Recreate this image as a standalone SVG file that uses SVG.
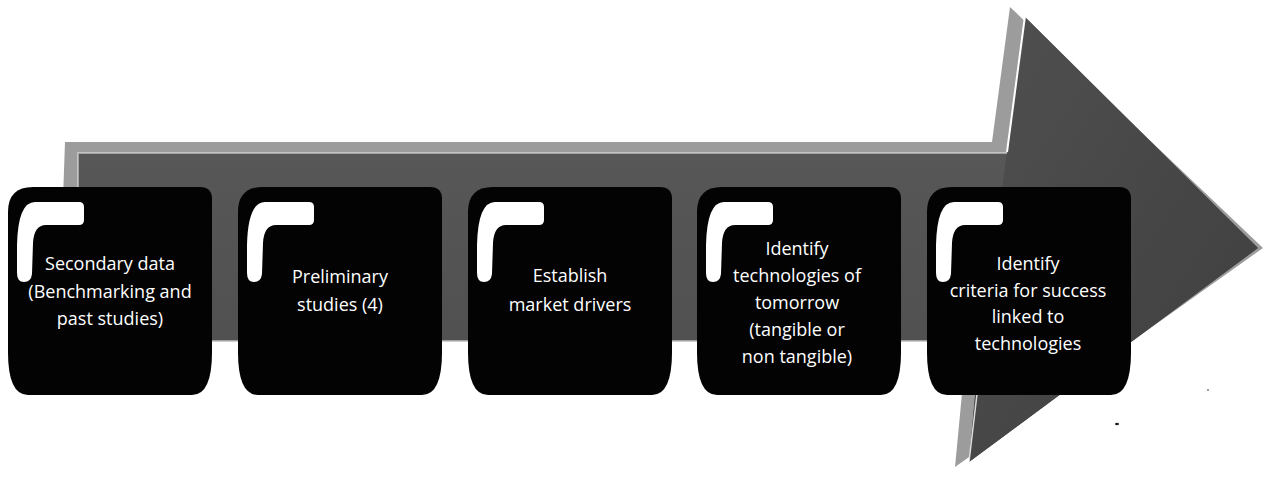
<svg xmlns="http://www.w3.org/2000/svg" width="1266" height="477" viewBox="0 0 1266 477">
<style>
.nodebg{fill:#030303}
.hook{fill:#ffffff}
.lbl{font-family:"Open Sans","Noto Sans","Liberation Sans",sans-serif;font-size:18px;fill:#ffffff;text-anchor:middle}
</style>
<defs>
<linearGradient id="bodyG" x1="0" y1="0" x2="0" y2="1">
<stop offset="0" stop-color="#5c5c5c"/>
<stop offset="1" stop-color="#4c4c4c"/>
</linearGradient>
<linearGradient id="headG" x1="0" y1="0" x2="1" y2="1">
<stop offset="0" stop-color="#505050"/>
<stop offset="1" stop-color="#3e3e3e"/>
</linearGradient>
<path id="nodeShape" d="M 25,0 L 192,0 Q 204,0 204,12 L 204,165 Q 204,208 184,208 L 20,208 Q 0,208 0,165 L 0,25 Q 0,0 25,0 Z"/>
<path id="hookShape" d="M 27,15 L 71,15 Q 76,15 76,20 L 76,33 Q 76,38 71,38 L 38,38 Q 26,38 25,56 L 24,87 Q 23,95 16,95 Q 9,95 9,86 L 9,58 Q 10,15 27,15 Z"/>
</defs>

<g id="arrow">
<path d="M 65,142 L 992,142 L 1010,7 L 1263,248 L 955,467 L 967,341 L 58,341 Z" fill="#9c9c9c"/>
<path d="M 78,153 L 1007,153 L 1025,17 L 1258,248 L 969,462 L 980,341 L 78,341 Z" fill="url(#bodyG)"/>
<path d="M 1007,153 L 1025,17 L 1258,248 L 969,462 L 980,341 Z" fill="url(#headG)"/>
<path d="M 78,341 L 78,153 L 1007,153" fill="none" stroke="#e8e8e8" stroke-width="1.5" opacity="0.7"/>
<path d="M 1007,152 L 1025,16" fill="none" stroke="#ffffff" stroke-width="2"/>
<path d="M 977,394 L 969,462" fill="none" stroke="#ffffff" stroke-width="1.5" opacity="0.8"/>
<path d="M 58,341 L 967,341" fill="none" stroke="#bdbdbd" stroke-width="1.5"/>
</g>

<g id="node1" transform="translate(8,187)">
<use href="#nodeShape" class="nodebg"/>
<use href="#hookShape" class="hook"/>
<text class="lbl" x="102" y="83">Secondary data</text>
<text class="lbl" x="102" y="111">(Benchmarking and</text>
<text class="lbl" x="102" y="138">past studies)</text>
</g>

<g id="node2" transform="translate(238,187)">
<use href="#nodeShape" class="nodebg"/>
<use href="#hookShape" class="hook"/>
<text class="lbl" x="102" y="96">Preliminary</text>
<text class="lbl" x="102" y="124">studies (4)</text>
</g>

<g id="node3" transform="translate(468,187)">
<use href="#nodeShape" class="nodebg"/>
<use href="#hookShape" class="hook"/>
<text class="lbl" x="102" y="95">Establish</text>
<text class="lbl" x="102" y="124">market drivers</text>
</g>

<g id="node4" transform="translate(697,187)">
<use href="#nodeShape" class="nodebg"/>
<use href="#hookShape" class="hook"/>
<text class="lbl" x="100" y="68">Identify</text>
<text class="lbl" x="100" y="95">technologies of</text>
<text class="lbl" x="100" y="122">tomorrow</text>
<text class="lbl" x="100" y="149">(tangible or</text>
<text class="lbl" x="100" y="176">non tangible)</text>
</g>

<g id="node5" transform="translate(927,187)">
<use href="#nodeShape" class="nodebg"/>
<use href="#hookShape" class="hook"/>
<text class="lbl" x="101" y="83">Identify</text>
<text class="lbl" x="101" y="110">criteria for success</text>
<text class="lbl" x="101" y="136">linked to</text>
<text class="lbl" x="101" y="163">technologies</text>
</g>

<g id="specks" fill="#222">
<ellipse cx="1117" cy="424" rx="2" ry="1.2"/>
<circle cx="1208" cy="390" r="0.8"/>
</g>
</svg>
